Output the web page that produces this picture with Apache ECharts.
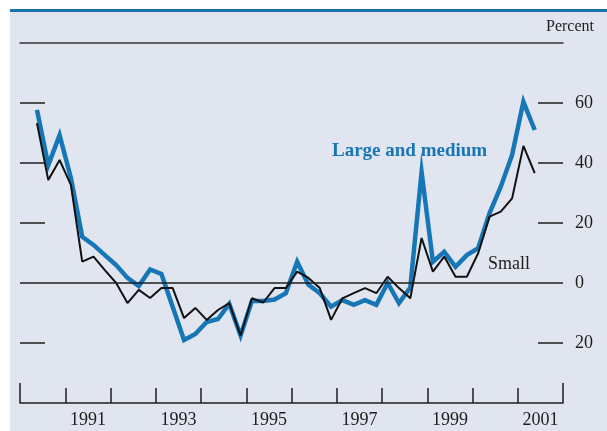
<!DOCTYPE html>
<html><head><meta charset="utf-8">
<script src="https://cdn.jsdelivr.net/npm/echarts@6/dist/echarts.min.js"></script>
<style>html,body{margin:0;padding:0;background:#fff}#c{width:607px;height:431px}</style>
</head><body><div id="c"></div>
<script>
// Quarterly survey dates (mid-quarter)
const quarters = ["1990Q2","1990Q3","1990Q4","1991Q1","1991Q2","1991Q3","1991Q4","1992Q1","1992Q2","1992Q3","1992Q4","1993Q1","1993Q2","1993Q3","1993Q4","1994Q1","1994Q2","1994Q3","1994Q4","1995Q1","1995Q2","1995Q3","1995Q4","1996Q1","1996Q2","1996Q3","1996Q4","1997Q1","1997Q2","1997Q3","1997Q4","1998Q1","1998Q2","1998Q3","1998Q4","1999Q1","1999Q2","1999Q3","1999Q4","2000Q1","2000Q2","2000Q3","2000Q4","2001Q1","2001Q2"];
const largeMedium = [57.7,39.3,49.3,35,15.4,12.7,9.3,6,1.7,-1,4.5,3,-8,-19,-17,-13,-12,-7,-17.5,-6,-6,-5.5,-3.4,7.1,-0.6,-3.4,-7.9,-5.7,-7.3,-5.7,-7.3,0,-6.7,-1.5,37,7.1,10.4,5.4,9.3,11.6,23.2,32.1,42.7,60.4,51];
const small = [53.3,34.3,41,32.7,7.1,8.8,4.3,0,-6.7,-2.3,-5,-1.7,-1.7,-11.7,-8.3,-12.3,-9,-6.7,-17.5,-5.1,-6.5,-1.7,-1.7,3.8,1.7,-1.7,-12.3,-5.1,-3.4,-1.7,-3.4,2.1,-1.7,-5.1,15,3.8,8.8,2.1,2.1,9.9,22.1,23.8,28.2,45.7,36.6];
const yTicks = [-20,20,40,60];
const yLabels = [-20,0,20,40,60];
const yearLabels = [1991,1993,1995,1997,1999,2001];

function qToYear(q){ const y=+q.slice(0,4), n=+q.slice(5); return y + (n-0.5)/4; }
const xs = quarters.map(qToYear);
const pair = arr => arr.map((v,i)=>[xs[i], v]);

const serif = '"Liberation Serif","DejaVu Serif",serif';
const ink = '#1e1e1e';
const blue = '#1777b6';

const chart = echarts.init(document.getElementById('c'), null, {renderer:'canvas'});
chart.setOption({
  animation:false,
  graphic:[
    {type:'rect', z:-10, silent:true, shape:{x:10,y:12,width:597,height:419}, style:{fill:'#e1e5ef'}},
    {type:'rect', z:-9, silent:true, shape:{x:10,y:9,width:597,height:3}, style:{fill:'#1a6fae'}},
    {type:'text', left:546, top:19, style:{text:'Percent', font:'16px '+serif, fill:ink}},
    {type:'text', left:332, top:142, style:{text:'Large and medium', font:'bold 19px '+serif, fill:blue}},
    {type:'text', left:488, top:255, style:{text:'Small', font:'18px '+serif, fill:ink}}
  ],
  grid:{left:20, right:44, top:43, bottom:28, containLabel:false},
  xAxis:[
    {type:'value', min:1990, max:2002, interval:1, position:'bottom',
     axisLine:{show:true, onZero:false, lineStyle:{color:ink, width:1.5}},
     axisTick:{show:true, inside:true, length:15, lineStyle:{color:ink, width:1.5}},
     axisLabel:{show:true, customValues:yearLabels.map(y=>y+0.5), formatter:v=>String(Math.floor(v)), margin:8, fontFamily:'Liberation Serif', fontSize:18, color:ink},
     splitLine:{show:false}},
    {type:'value', min:1990, max:2002, position:'top',
     axisLine:{show:true, onZero:false, lineStyle:{color:'#333', width:1.5}},
     axisTick:{show:false}, axisLabel:{show:false}, splitLine:{show:false}},
    {type:'value', min:1990, max:2002, position:'bottom',
     axisLine:{show:false, onZero:false},
     axisTick:{show:true, inside:true, length:20, customValues:[1990,2002], lineStyle:{color:ink, width:1.5}},
     axisLabel:{show:false}, splitLine:{show:false}}
  ],
  yAxis:[
    {type:'value', min:-40, max:80, interval:20, position:'left',
     axisLine:{show:false}, splitLine:{show:false},
     axisTick:{show:true, inside:true, length:25, customValues:yTicks, lineStyle:{color:ink, width:1.5}},
     axisLabel:{show:false}},
    {type:'value', min:-40, max:80, interval:20, position:'right',
     axisLine:{show:false}, splitLine:{show:false},
     axisTick:{show:true, inside:true, length:25, customValues:yTicks, lineStyle:{color:ink, width:1.5}},
     axisLabel:{show:true, customValues:yLabels, formatter:v=>String(Math.abs(v)), margin:12, fontFamily:'Liberation Serif', fontSize:18, color:ink}}
  ],
  series:[
    {type:'line', name:'Large and medium', data:pair(largeMedium), symbol:'none', z:2,
     lineStyle:{color:blue, width:4.5, join:'miter'},
     markLine:{silent:true, symbol:'none', label:{show:false}, lineStyle:{color:ink, width:1.5, type:'solid'}, data:[{yAxis:0}]}},
    {type:'line', name:'Small', data:pair(small), symbol:'none', z:3,
     lineStyle:{color:'#111', width:2}}
  ]
});
</script></body></html>
